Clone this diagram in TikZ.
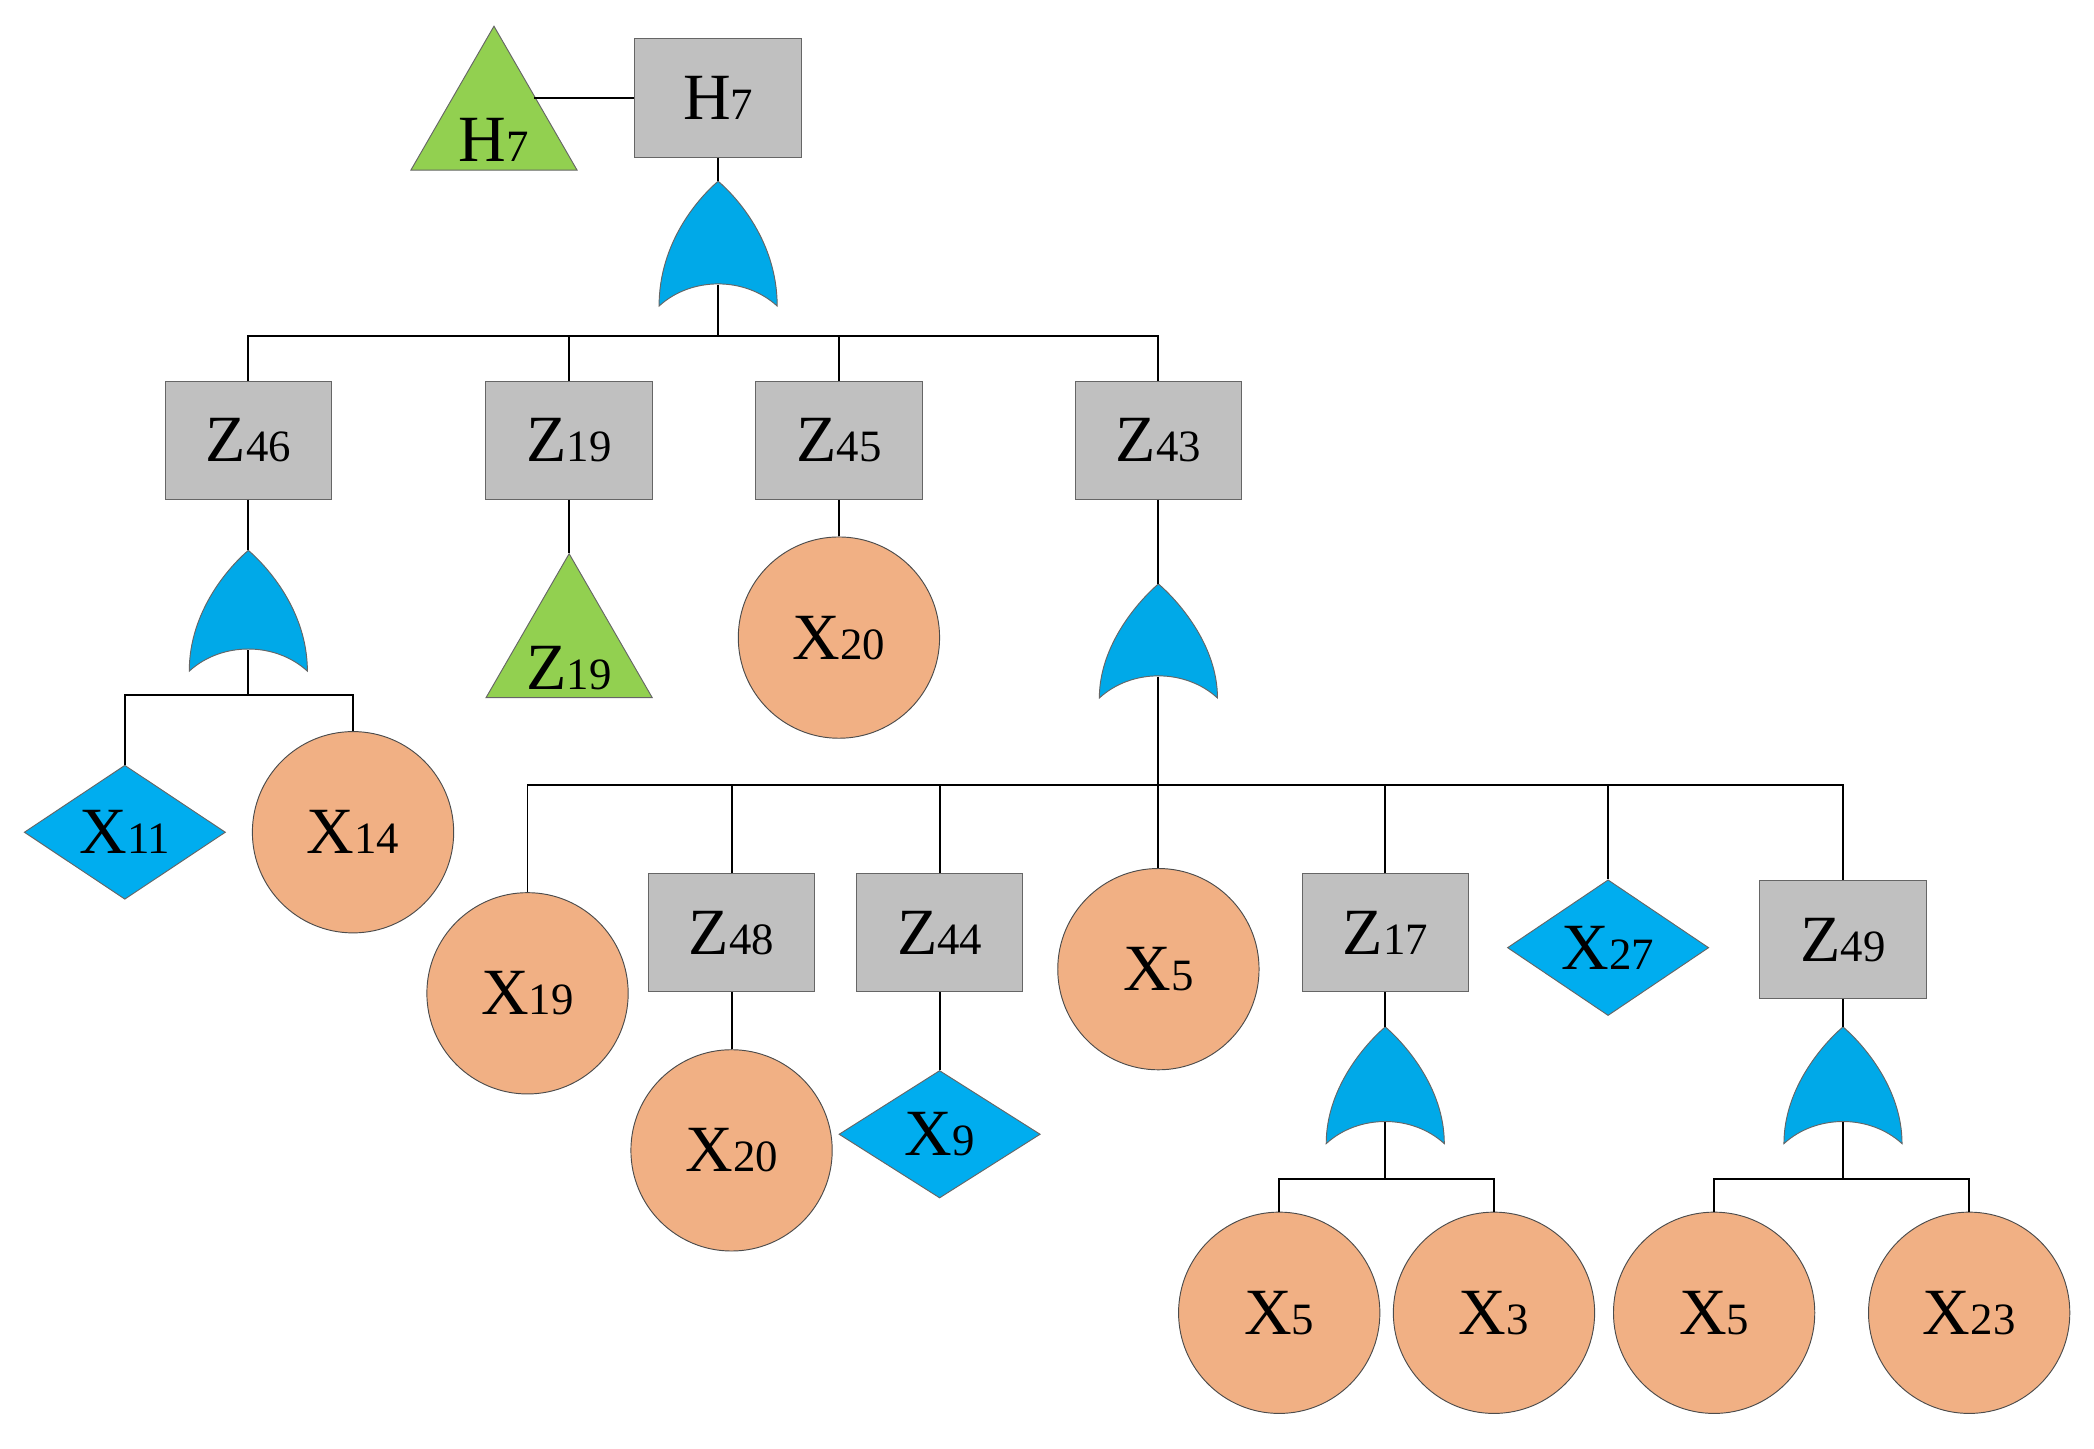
\documentclass[tikz,border=0pt]{standalone}
\usepackage{fontspec}
\setmainfont{Liberation Serif}
\usetikzlibrary{shapes.geometric}

\definecolor{boxgray}{RGB}{192,192,192}
\definecolor{basicorange}{RGB}{241,176,132}
\definecolor{gateblue}{RGB}{0,169,232}
\definecolor{trigreen}{RGB}{146,208,80}

\tikzset{
    every node/.style={font=\fontsize{28}{30}\selectfont},
    event/.style={draw=black!60, fill=boxgray, minimum width=2.48cm, minimum height=1.76cm, inner sep=0pt},
    basic/.style={circle, draw=black!70, fill=basicorange, minimum size=3cm, inner sep=0pt},
    undev/.style={diamond, draw=black!60, fill=cyan, minimum width=3cm, minimum height=1.9cm, inner sep=0pt},
    transfer/.style={regular polygon, regular polygon sides=3, draw=black!60, fill=trigreen, minimum size=2.86cm, inner sep=0pt},
    link/.style={thick},
}

% OR gate: name, x, top, bottom
\newcommand{\orgate}[4]{
    \path[draw=black!60, fill=gateblue]
        (#2-44,#4) .. controls (#2-44,#3+45) and (#2-14,#3+12) .. (#2,#3)
        .. controls (#2+14,#3+12) and (#2+44,#3+45) .. (#2+44,#4)
        .. controls (#2+20,#4-22) and (#2-20,#4-22) .. cycle;
    \coordinate (#1in) at (#2,#3);
    \coordinate (#1out) at (#2,#4-16);
}
\newcommand{\sub}[1]{{\fontsize{19}{20}\selectfont #1}}

\begin{document}
\begin{tikzpicture}[x=0.02cm, y=-0.02cm]
\useasboundingbox (0,0) rectangle (1560,1079);

% Top event
\node[event] (H7) at (535,73) {H\sub{7}};
\node[transfer] (tH7) at (368,91) {};
\node at (368,104) {H\sub{7}};
\draw[link] (398,73) -- (H7.west);
\orgate{gA}{535}{135}{228}
\draw[link] (H7.south) -- (gAin);

% First level
\node[event] (Z46) at (185,328) {Z\sub{46}};
\node[event] (Z19) at (424,328) {Z\sub{19}};
\node[event] (Z45) at (625,328) {Z\sub{45}};
\node[event] (Z43) at (863,328) {Z\sub{43}};
\coordinate (busA) at (535,250);
\draw[link] (gAout) -- (busA);
\draw[link] (Z46.north) |- (busA) -| (Z43.north);
\foreach \n in {Z19,Z45}
    \draw[link] (\n.north) -- (\n.north |- busA);

% Z46
\orgate{gB}{185}{410}{500}
\draw[link] (Z46.south) -- (gBin);
\node[undev] (X11) at (93,620) {X\sub{11}};
\node[basic] (X14a) at (263,620) {X\sub{14}};
\coordinate (busB) at (185,518);
\draw[link] (gBout) -- (busB);
\draw[link] (X11.north) |- (busB) -| (X14a.north);

% Z19 and Z45
\node[transfer] (tZ19) at (424,484) {};
\node at (424,498) {Z\sub{19}};
\draw[link] (Z19.south) -- (tZ19.north);
\node[basic] (X20a) at (625,475) {X\sub{20}};
\draw[link] (Z45.south) -- (X20a.north);

% Z43
\orgate{gC}{863}{435}{520}
\draw[link] (Z43.south) -- (gCin);
\node[basic] (X19) at (393,740) {X\sub{19}};
\node[event] (Z48) at (545,695) {Z\sub{48}};
\node[event] (Z44) at (700,695) {Z\sub{44}};
\node[basic] (X5a) at (863,722) {X\sub{5}};
\node[event] (Z17) at (1032,695) {Z\sub{17}};
\node[undev] (X27) at (1198,706) {X\sub{27}};
\node[event] (Z49) at (1373,700) {Z\sub{49}};
\coordinate (busC) at (863,585);
\draw[link] (gCout) -- (busC);
\draw[link] (X19.north) |- (busC) -| (Z49.north);
\foreach \n in {Z48,Z44,X5a,Z17,X27}
    \draw[link] (\n.north) -- (\n.north |- busC);

% Z48 and Z44
\node[basic] (X20b) at (545,857) {X\sub{20}};
\draw[link] (Z48.south) -- (X20b.north);
\node[undev] (X9) at (700,845) {X\sub{9}};
\draw[link] (Z44.south) -- (X9.north);

% Z17
\orgate{gD}{1032}{765}{852}
\draw[link] (Z17.south) -- (gDin);
\node[basic] (X5b) at (953,978) {X\sub{5}};
\node[basic] (X3) at (1113,978) {X\sub{3}};
\coordinate (busD) at (1032,878);
\draw[link] (gDout) -- (busD);
\draw[link] (X5b.north) |- (busD) -| (X3.north);

% Z49
\orgate{gE}{1373}{765}{852}
\draw[link] (Z49.south) -- (gEin);
\node[basic] (X5c) at (1277,978) {X\sub{5}};
\node[basic] (X23) at (1467,978) {X\sub{23}};
\coordinate (busE) at (1373,878);
\draw[link] (gEout) -- (busE);
\draw[link] (X5c.north) |- (busE) -| (X23.north);

\end{tikzpicture}
\end{document}
